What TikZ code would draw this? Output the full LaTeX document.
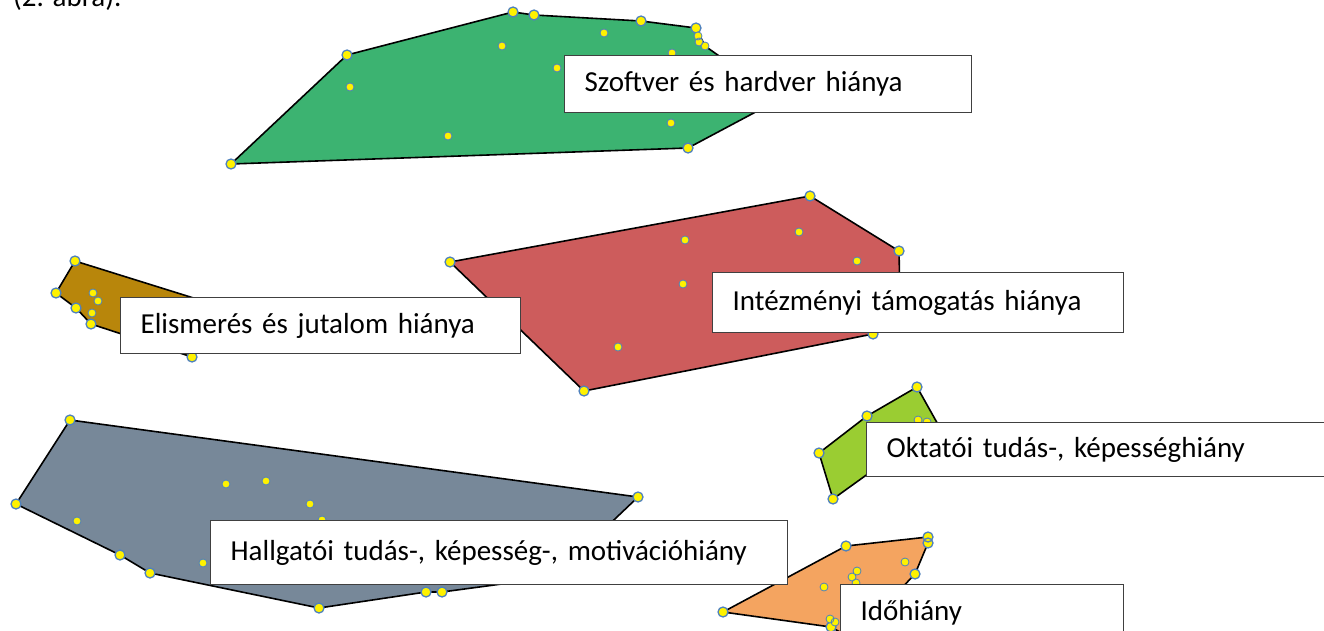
\documentclass[tikz,border=0pt]{standalone}
\usepackage{fontspec}
\setmainfont{Carlito}
\usepackage{tikz}

\definecolor{dotline}{RGB}{79,129,189}
\definecolor{boxline}{RGB}{64,64,64}
\definecolor{softgreen}{RGB}{60,179,113}
\definecolor{softbrown}{RGB}{184,134,11}
\definecolor{softred}{RGB}{205,92,92}
\definecolor{softslate}{RGB}{119,136,153}
\definecolor{softlime}{RGB}{154,205,50}
\definecolor{softorange}{RGB}{244,164,96}

\begin{document}
\begin{tikzpicture}[
    x=1pt, y=-1pt,
    hull/.style={draw=black, line width=1.6pt, line join=round},
    vdot/.style={fill=yellow, draw=dotline, line width=1.3pt},
    idot/.style={fill=yellow, draw=dotline, line width=0.8pt},
    tagbox/.style={draw=boxline, fill=white, line width=1.3pt, anchor=north west,
        inner xsep=20pt, inner ysep=0pt, align=left, font=\fontsize{29}{34}\selectfont}
]
    \useasboundingbox (0,0) rectangle (1324,631);
    \clip (0,0) rectangle (1324,631);

    % 1. Caption line cut off at the top
    \node[anchor=base west, inner sep=0pt, font=\fontsize{29}{34}\selectfont] (FIG) at (13,7) {(2. ábra).};

    % 2. The clusters
    \draw[hull, fill=softgreen] (231,164) -- (347,55) -- (513,12) -- (534,15) -- (641,21)
        -- (696,28) -- (705,46) -- (780,99) -- (688,148) -- cycle;
    \draw[hull, fill=softbrown] (75,261) -- (232,310) -- (192,357) -- (91,324) -- (76,308)
        -- (56,293) -- cycle;
    \draw[hull, fill=softred] (450,262) -- (810,196) -- (899,251) -- (900,300) -- (873,334)
        -- (584,391) -- cycle;
    \draw[hull, fill=softslate] (70,420) -- (638,497) -- (554,577) -- (442,592) -- (426,592)
        -- (319,608) -- (150,573) -- (120,555) -- (16,504) -- cycle;
    \draw[hull, fill=softlime] (917,387) -- (940,428) -- (890,458) -- (833,499) -- (819,453)
        -- (867,416) -- cycle;
    \draw[hull, fill=softorange] (723,612) -- (846,546) -- (928,537) -- (928,543) -- (915,574)
        -- (895,595) -- (840,632) -- (831,627) -- cycle;

    % 3. The points (hull corners, then inner ones)
    \path[vdot] (231,164) circle[radius=5] (347,55) circle[radius=5] (513,12) circle[radius=5]
        (534,15) circle[radius=5] (641,21) circle[radius=5] (696,28) circle[radius=5]
        (688,148) circle[radius=5];
    \path[idot] (350,87) circle[radius=4] (502,46) circle[radius=4] (604,33) circle[radius=4]
        (557,68) circle[radius=4] (672,53) circle[radius=4] (671,123) circle[radius=4]
        (448,136) circle[radius=4] (698,36) circle[radius=4] (699,42) circle[radius=4]
        (705,46) circle[radius=4];

    \path[vdot] (75,261) circle[radius=5] (56,293) circle[radius=5] (76,308) circle[radius=5]
        (91,324) circle[radius=5] (192,357) circle[radius=5];
    \path[idot] (93,293) circle[radius=4] (98,301) circle[radius=4] (92,313) circle[radius=4];

    \path[vdot] (450,262) circle[radius=5] (810,196) circle[radius=5] (899,251) circle[radius=5]
        (873,334) circle[radius=5] (584,391) circle[radius=5];
    \path[idot] (685,240) circle[radius=4] (799,232) circle[radius=4] (857,261) circle[radius=4]
        (683,284) circle[radius=4] (618,347) circle[radius=4];

    \path[vdot] (70,420) circle[radius=5] (16,504) circle[radius=5] (120,555) circle[radius=5]
        (150,573) circle[radius=5] (319,608) circle[radius=5] (426,592) circle[radius=5]
        (442,592) circle[radius=5] (638,497) circle[radius=5];
    \path[idot] (77,521) circle[radius=4] (226,484) circle[radius=4] (266,481) circle[radius=4]
        (310,504) circle[radius=4] (203,563) circle[radius=4] (322,520) circle[radius=4];

    \path[vdot] (917,387) circle[radius=5] (867,416) circle[radius=5] (819,453) circle[radius=5]
        (833,499) circle[radius=5];
    \path[idot] (918,420) circle[radius=4] (927,422) circle[radius=4];

    \path[vdot] (723,612) circle[radius=5] (846,546) circle[radius=5] (928,537) circle[radius=5]
        (928,543) circle[radius=5] (915,574) circle[radius=5] (831,627) circle[radius=5];
    \path[idot] (905,562) circle[radius=4] (857,571) circle[radius=4] (852,577) circle[radius=4]
        (856,583) circle[radius=4] (824,587) circle[radius=4] (830,619) circle[radius=4]
        (835,622) circle[radius=4];

    % 4. The labels
    \node[tagbox, text width=367pt, minimum height=57pt] (SH) at (564,55) {Szoftver és hardver hiánya};
    \node[tagbox, text width=360pt, minimum height=56pt] (EJ) at (120,297) {Elismerés és jutalom hiánya};
    \node[tagbox, text width=371pt, minimum height=60pt] (IT) at (712,272) {Intézményi támogatás hiánya};
    \node[tagbox, text width=430pt, minimum height=54pt] (OT) at (866,422) {Oktatói tudás-, képességhiány};
    \node[tagbox, text width=537pt, minimum height=64pt] (HT) at (210,520) {Hallgatói tudás-, képesség-, motivációhiány};
    \node[tagbox, text width=243pt, minimum height=56pt] (IH) at (840,584) {Időhiány};

\end{tikzpicture}
\end{document}
